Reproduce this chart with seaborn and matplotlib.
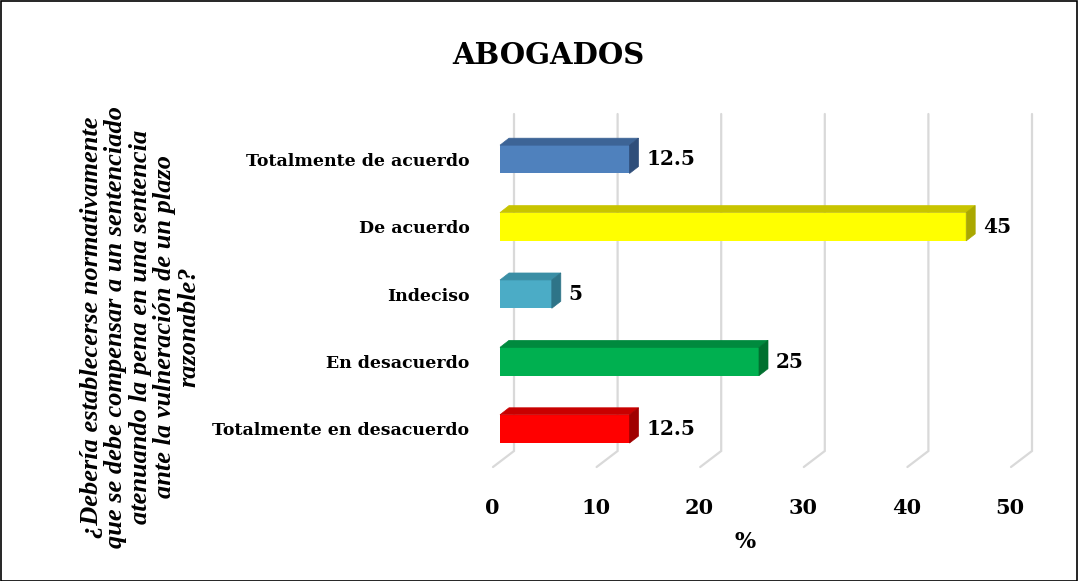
import numpy as np
import pandas as pd
import seaborn as sns

import matplotlib
matplotlib.use('Agg')
import matplotlib.pyplot as plt
from matplotlib.patches import Polygon, Rectangle
from matplotlib.transforms import ScaledTranslation

# data
categories = ["Totalmente de acuerdo", "De acuerdo", "Indeciso",
              "En desacuerdo", "Totalmente en desacuerdo"]
values = [12.5, 45, 5, 25, 12.5]
value_labels = ["12.5", "45", "5", "25", "12.5"]
x_ticks = [0, 10, 20, 30, 40, 50]
front_colors = ["#4f81bd", "#ffff00", "#4bacc6", "#00b050", "#ff0000"]
top_colors = ["#3d6496", "#c8c400", "#3a8ea5", "#008a3e", "#c80000"]
side_colors = ["#2f4e7a", "#aaa800", "#2e7488", "#00702f", "#a00000"]
title = "ABOGADOS"
question = ("¿Debería establecerse normativamente\n"
            "que se debe compensar a un sentenciado\n"
            "atenuando la pena en una sentencia\n"
            "ante la vulneración de un plazo\n"
            "razonable?")

df = pd.DataFrame({"categoria": categories, "valor": values})

sns.set_style("white")
plt.rcParams['font.family'] = ['DejaVu Serif']
plt.rcParams['text.color'] = 'black'
plt.rcParams['xtick.color'] = 'black'
plt.rcParams['ytick.color'] = 'black'

W, H, DPI = 1078, 581, 100
fig = plt.figure(figsize=(W / DPI, H / DPI), dpi=DPI)
# axes box = front plane of the bars (pixels 500..1018 x, 129..466 y)
ax = fig.add_axes([500 / W, (H - 466) / H, 518 / W, (466 - 129) / H])

sns.barplot(data=df, x="valor", y="categoria", hue="categoria", orient="h",
            palette=front_colors, legend=False, width=0.42, saturation=1,
            linewidth=0, ax=ax, zorder=3)
ax.set_xlim(0, 50)
ax.set_ylim(4.55, -0.45)
for s in ax.spines.values():
    s.set_visible(False)
ax.set_xlabel("")
ax.set_ylabel("")

to_disp = ax.transData.transform
to_data = ax.transData.inverted().transform


def poly(points_disp, color, z):
    p = Polygon(to_data(np.array(points_disp)), closed=True, facecolor=color,
                edgecolor=color, lw=0.5, clip_on=False, zorder=z)
    ax.add_patch(p)


# floor + back wall gridlines (perspective)
ybot, ytop = 4.55, -0.45
for xv in x_ticks:
    fb = to_disp((xv, ybot))
    front = fb + np.array([-7, -1])
    back = fb + np.array([14, 15])
    top = to_disp((xv, ytop)) + np.array([14, 15])
    pts = to_data(np.array([front, back, top]))
    ax.plot(pts[:, 0], pts[:, 1], color="#d9d9d9", lw=1.6, clip_on=False,
            zorder=1, solid_joinstyle="miter")

# 3D depth of bars
dx, dy = 9, 7
for i, patch in enumerate(ax.patches[:len(values)]):
    x0, y0 = patch.get_x(), patch.get_y()
    w, h = patch.get_width(), patch.get_height()
    a = to_disp((x0, y0))          # top-left (inverted y axis)
    b = to_disp((x0 + w, y0))      # top-right
    c = to_disp((x0 + w, y0 + h))  # bottom-right
    off = np.array([dx, dy])
    poly([a, b, b + off, a + off], top_colors[i], 4)
    poly([b, c, c + off, b + off], side_colors[i], 4)
    ax.annotate(value_labels[i], xy=(x0 + w, y0 + h / 2),
                xytext=(17 / DPI * 72, 0), textcoords="offset points",
                ha="left", va="center", fontsize=14.5, fontweight="bold",
                color="black", zorder=5)

ax.set_xticks(x_ticks)
ax.set_xticklabels([str(t) for t in x_ticks], fontsize=15, fontweight="bold")
ax.tick_params(axis="x", length=0, pad=23)
ax.tick_params(axis="y", length=0, pad=22, labelsize=12.5)
for lab in ax.get_yticklabels():
    lab.set_fontweight("bold")
shift = ScaledTranslation(-8 / DPI, 0, fig.dpi_scale_trans)
for lab in ax.get_xticklabels():
    lab.set_transform(lab.get_transform() + shift)

fig.text(548 / W, 1 - 55 / H, title, ha="center", va="center",
         fontsize=21, fontweight="bold")
fig.text(745 / W, 1 - 542 / H, "%", ha="center", va="center",
         fontsize=16, fontweight="bold")
fig.text(140 / W, 1 - 327 / H, question, ha="center", va="center",
         rotation=90, fontsize=19, fontweight="bold", fontstyle="italic",
         family=["Liberation Serif"], linespacing=1.08,
         multialignment="center")

fig.patches.append(Rectangle((0.5 / W, 0.5 / H), 1 - 1.5 / W, 1 - 1.5 / H,
                             transform=fig.transFigure, fill=False,
                             edgecolor="black", lw=1.2))

fig.savefig("out.png", dpi=DPI)
plt.close()
